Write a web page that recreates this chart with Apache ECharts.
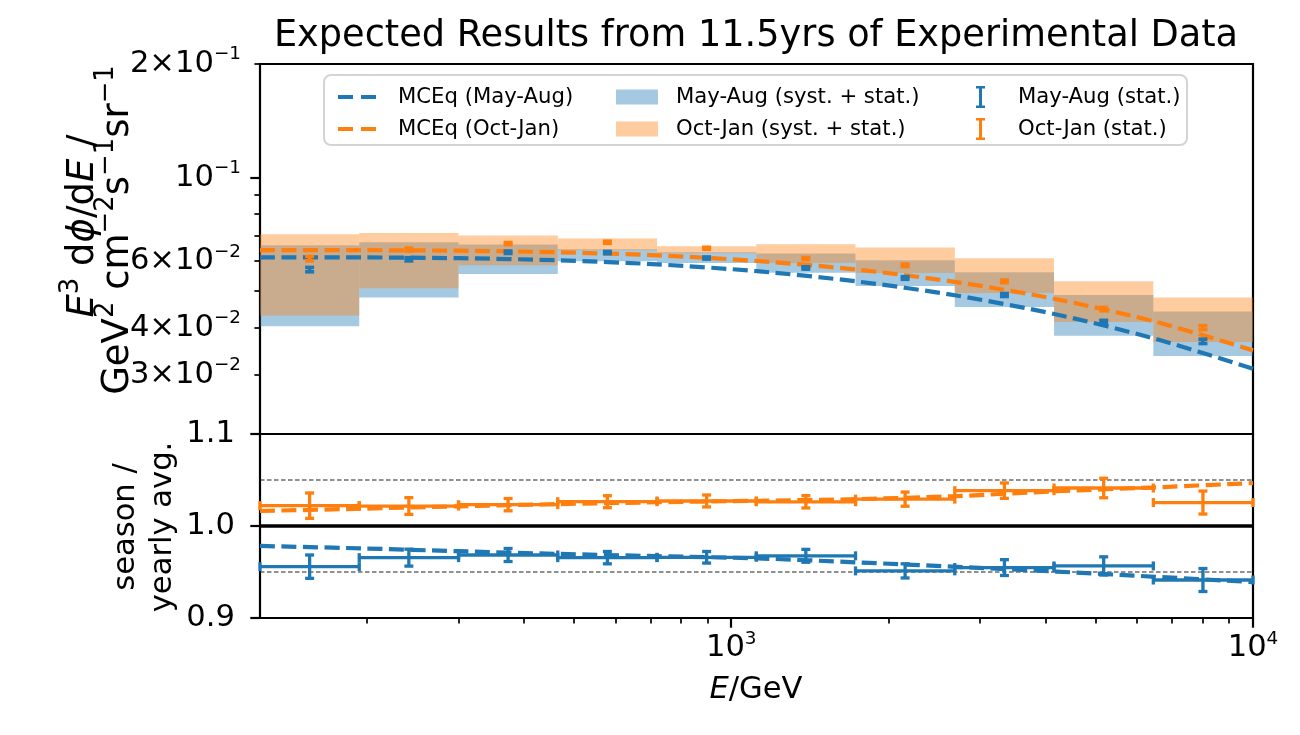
<!DOCTYPE html>
<html><head><meta charset="utf-8">
<script src="https://cdn.jsdelivr.net/npm/echarts/dist/echarts.min.js"></script>
<style>html,body{margin:0;padding:0;background:#fff}#c{width:1300px;height:735px}</style>
</head><body><div id="c"></div>
<script>
// ---- data ----
const binEdges   = [125, 193.7, 300.2, 465.1, 720.8, 1116.9, 1730.8, 2682, 4156, 6441, 10000];
const binCenters = [155.6, 241.1, 373.6, 579.0, 897.2, 1390, 2154, 3339, 5174, 8018];

const bandMayLow   = [0.04032, 0.04805, 0.05549, 0.05998, 0.05935, 0.05597, 0.05157, 0.04536, 0.03810, 0.03363];
const bandMayHigh  = [0.06613, 0.06736, 0.06642, 0.06452, 0.06339, 0.06288, 0.06034, 0.05607, 0.04882, 0.04418];
const bandOctLow   = [0.04311, 0.05085, 0.05852, 0.06414, 0.06300, 0.05935, 0.05583, 0.04941, 0.04140, 0.03664];
const bandOctHigh  = [0.07073, 0.07128, 0.07016, 0.06888, 0.06573, 0.06654, 0.06521, 0.06108, 0.05306, 0.04805];

const fluxMay    = [0.05702, 0.06071, 0.06339, 0.06327, 0.06119, 0.05758, 0.05417, 0.04882, 0.04140, 0.03679];
const fluxMayErr = [0.00076, 0.00058, 0.00046, 0.00044, 0.00040, 0.00041, 0.00044, 0.00044, 0.00043, 0.00049];
const fluxOct    = [0.06097, 0.06442, 0.06682, 0.06736, 0.06494, 0.06097, 0.05852, 0.05306, 0.04480, 0.04000];
const fluxOctErr = [0.00082, 0.00058, 0.00044, 0.00042, 0.00041, 0.00040, 0.00044, 0.00043, 0.00046, 0.00049];

const mceqE      = [125, 195, 301, 466, 722, 1120, 1740, 2700, 4200, 6500, 10000];
const mceqMay    = [0.06145, 0.06141, 0.06112, 0.06034, 0.05886, 0.05646, 0.05304, 0.04867, 0.04335, 0.03736, 0.03113];
const mceqOct    = [0.06421, 0.06418, 0.06398, 0.06338, 0.06218, 0.06008, 0.05701, 0.05283, 0.04757, 0.04147, 0.03482];
const mceqMayRatio = [0.9783, 0.9757, 0.9726, 0.9697, 0.9672, 0.9648, 0.9605, 0.9556, 0.9505, 0.9448, 0.9390];
const mceqOctRatio = [1.0163, 1.0188, 1.0214, 1.0238, 1.0258, 1.0274, 1.0292, 1.0325, 1.0378, 1.0420, 1.0467];

const ratioMay    = [0.9558, 0.9656, 0.9685, 0.9656, 0.9660, 0.9676, 0.9512, 0.9548, 0.9566, 0.9413];
const ratioMayErr = [0.0127, 0.0092, 0.0071, 0.0067, 0.0063, 0.0070, 0.0077, 0.0086, 0.0099, 0.0125];
const ratioOct    = [1.0221, 1.0217, 1.0232, 1.0264, 1.0272, 1.0263, 1.0292, 1.0384, 1.0413, 1.0255];
const ratioOctErr = [0.0138, 0.0091, 0.0067, 0.0065, 0.0065, 0.0067, 0.0077, 0.0084, 0.0106, 0.0125];

const refLevels = [1.05, 1.0, 0.95];

const xTickVals  = [1000, 10000];
const xTickText  = ['{m|10}{s|3}', '{m|10}{s|4}'];
const xMinorVals = [200, 300, 400, 500, 600, 700, 800, 900, 2000, 3000, 4000, 5000, 6000, 7000, 8000, 9000];
const yTickVals  = [0.03, 0.04, 0.06, 0.1, 0.2];
const yTickText  = ['{m|3×10}{s|−2}', '{m|4×10}{s|−2}', '{m|6×10}{s|−2}', '{m|10}{s|−1}', '{m|2×10}{s|−1}'];
const yMinorVals = [0.03, 0.04, 0.05, 0.06, 0.07, 0.08, 0.09, 0.2];

// ---- styling ----
const FAM = "DejaVu Sans";
const BLUE = '#1f77b4', ORANGE = '#ff7f0e';
const BLUE_A = 'rgba(31,119,180,0.4)', ORANGE_A = 'rgba(255,127,14,0.4)';
const G0 = {left: 260, top: 64, width: 993, height: 370};
const G1 = {left: 260, top: 434, width: 993, height: 184};

function bandRows(lo, hi) { return lo.map((v, i) => [binEdges[i], binEdges[i + 1], v, hi[i]]); }
function errRows(v, e) { return v.map((y, i) => [binCenters[i], y, e[i]]); }
function stepRows(v, e) { return v.map((y, i) => [binEdges[i], binCenters[i], binEdges[i + 1], y, e[i]]); }
function pairs(xs, ys) { return xs.map((x, i) => [x, ys[i]]); }

function renderBand(params, api) {
  const p1 = api.coord([api.value(0), api.value(3)]);
  const p2 = api.coord([api.value(1), api.value(2)]);
  return {type: 'rect', shape: {x: p1[0], y: p1[1], width: p2[0] - p1[0], height: p2[1] - p1[1]},
          style: {fill: api.visual('color')}};
}
function renderErr(params, api) {
  const x = api.value(0), y = api.value(1), e = api.value(2);
  const a = api.coord([x, y + e]), b = api.coord([x, y - e]);
  const c = 4.5, st = {stroke: api.visual('color'), lineWidth: 3.6};
  return {type: 'group', children: [
    {type: 'line', shape: {x1: a[0], y1: a[1], x2: b[0], y2: b[1]}, style: st},
    {type: 'line', shape: {x1: a[0] - c, y1: a[1], x2: a[0] + c, y2: a[1]}, style: st},
    {type: 'line', shape: {x1: b[0] - c, y1: b[1], x2: b[0] + c, y2: b[1]}, style: st}
  ]};
}
function renderStep(params, api) {
  const lo = api.value(0), cx = api.value(1), hi = api.value(2), y = api.value(3), e = api.value(4);
  const L = api.coord([lo, y]), R = api.coord([hi, y]);
  const T = api.coord([cx, y + e]), B = api.coord([cx, y - e]);
  const c = 4.5, st = {stroke: api.visual('color'), lineWidth: 3.3};
  return {type: 'group', children: [
    {type: 'line', shape: {x1: L[0], y1: L[1], x2: R[0], y2: R[1]}, style: st},
    {type: 'line', shape: {x1: L[0], y1: L[1] - c, x2: L[0], y2: L[1] + c}, style: st},
    {type: 'line', shape: {x1: R[0], y1: R[1] - c, x2: R[0], y2: R[1] + c}, style: st},
    {type: 'line', shape: {x1: T[0], y1: T[1], x2: B[0], y2: B[1]}, style: st},
    {type: 'line', shape: {x1: T[0] - c, y1: T[1], x2: T[0] + c, y2: T[1]}, style: st},
    {type: 'line', shape: {x1: B[0] - c, y1: B[1], x2: B[0] + c, y2: B[1]}, style: st}
  ]};
}
function lookup(vals, texts) {
  return v => { for (let i = 0; i < vals.length; i++) if (Math.abs(v - vals[i]) / vals[i] < 1e-6) return texts[i]; return ''; };
}
function richSet(size, supRatio) {
  return {
    m: {fontSize: size, fontFamily: FAM, color: '#000', fill: '#000', verticalAlign: 'middle'},
    i: {fontSize: size, fontFamily: FAM, fontStyle: 'italic', color: '#000', fill: '#000', verticalAlign: 'middle'},
    s: {fontSize: size * supRatio, fontFamily: FAM, color: '#000', fill: '#000', verticalAlign: 'middle',
        padding: [0, 0, size * 0.62, 0]}
  };
}
const dashLine = (color) => ({color: color, width: 4.2, type: [15, 6.5], cap: 'butt'});
const tickLbl = {color: '#000', fontSize: 30.6, fontFamily: FAM, rich: richSet(30.6, 0.6)};
const gridStyle = {show: true, borderColor: '#000', borderWidth: 2.2, backgroundColor: 'transparent', containLabel: false};

const DASH_ICON = 'path://M0,0H15V4H0Z M23,0H38V4H23Z';
const ERR_ICON  = 'path://M0,0H9V2.5H0Z M3,0H6V22H3Z M0,19.5H9V22H0Z';
const legendText = (pad) => ({color: '#000', fontSize: 21.2, fontFamily: FAM, lineHeight: 24, padding: [0, 0, 0, pad]});

function gText(x, y, rot, text, size) {
  return {type: 'text', x: x, y: y, rotation: rot, z: 10,
          style: {text: text, rich: richSet(size, 0.7), font: size + "px 'DejaVu Sans', sans-serif", fill: '#000',
                  textAlign: 'center', textVerticalAlign: 'middle'}};
}

const option = {
  animation: false,
  backgroundColor: '#fff',
  grid: [Object.assign({}, G0, gridStyle), Object.assign({}, G1, gridStyle)],
  xAxis: [
    {gridIndex: 0, type: 'log', logBase: 10, min: 125, max: 10000, position: 'bottom',
     axisLine: {show: false}, axisTick: {show: false}, axisLabel: {show: false}, splitLine: {show: false}},
    {gridIndex: 1, type: 'log', logBase: 10, min: 125, max: 10000, position: 'bottom',
     axisLine: {show: false}, splitLine: {show: false},
     axisTick: {show: true, inside: false, length: 9.7, lineStyle: {color: '#000', width: 2.2}, customValues: xTickVals},
     axisLabel: {show: true, margin: 12, customValues: xTickVals, formatter: lookup(xTickVals, xTickText), ...tickLbl}},
    {gridIndex: 1, type: 'log', logBase: 10, min: 125, max: 10000, position: 'bottom', offset: 0,
     axisLine: {show: false}, splitLine: {show: false}, axisLabel: {show: false},
     axisTick: {show: true, inside: false, length: 5.6, lineStyle: {color: '#000', width: 1.7}, customValues: xMinorVals}}
  ],
  yAxis: [
    {gridIndex: 0, type: 'log', logBase: 10, min: 0.0209, max: 0.2, position: 'left',
     axisLine: {show: false}, splitLine: {show: false},
     axisTick: {show: true, inside: false, length: 9.7, lineStyle: {color: '#000', width: 2.2}, customValues: [0.1]},
     axisLabel: {show: true, margin: 19, customValues: yTickVals, formatter: lookup(yTickVals, yTickText), ...tickLbl}},
    {gridIndex: 1, type: 'value', min: 0.9, max: 1.1, interval: 0.1, position: 'left',
     axisLine: {show: false}, splitLine: {show: false},
     axisTick: {show: true, inside: false, length: 9.7, lineStyle: {color: '#000', width: 2.2}},
     axisLabel: {show: true, margin: 25, formatter: v => '{m|' + v.toFixed(1) + '}', ...tickLbl}},
    {gridIndex: 0, type: 'log', logBase: 10, min: 0.0209, max: 0.2, position: 'left', offset: 0,
     axisLine: {show: false}, splitLine: {show: false}, axisLabel: {show: false},
     axisTick: {show: true, inside: false, length: 5.6, lineStyle: {color: '#000', width: 1.7}, customValues: yMinorVals}}
  ],
  legend: [
    {orient: 'vertical', left: 333, top: 80, itemGap: 8, itemWidth: 38, itemHeight: 4, symbolKeepAspect: true,
     itemStyle: {borderWidth: 0}, textStyle: legendText(17), selectedMode: false,
     data: [{name: 'MCEq (May-Aug)', icon: DASH_ICON}, {name: 'MCEq (Oct-Jan)', icon: DASH_ICON}]},
    {orient: 'vertical', left: 611, top: 80, itemGap: 8, itemWidth: 42, itemHeight: 15,
     itemStyle: {borderWidth: 0}, textStyle: legendText(13), selectedMode: false,
     data: [{name: 'May-Aug (syst. + stat.)', icon: 'rect'}, {name: 'Oct-Jan (syst. + stat.)', icon: 'rect'}]},
    {orient: 'vertical', left: 971, top: 80, itemGap: 8, itemWidth: 9, itemHeight: 22, symbolKeepAspect: true,
     itemStyle: {borderWidth: 0}, textStyle: legendText(28), selectedMode: false,
     data: [{name: 'May-Aug (stat.)', icon: ERR_ICON}, {name: 'Oct-Jan (stat.)', icon: ERR_ICON}]}
  ],
  graphic: [
    {type: 'rect', z: 0, shape: {x: 324, y: 75, width: 863, height: 70, r: 7},
     style: {fill: 'rgba(255,255,255,0.8)', stroke: '#d4d4d4', lineWidth: 2}},
    {type: 'text', x: 756, y: 36, style: {text: 'Expected Results from 11.5yrs of Experimental Data',
     font: "36.7px 'DejaVu Sans', sans-serif", fill: '#000', textAlign: 'center', textVerticalAlign: 'middle'}},
    gText(756, 690, 0, '{i|E}{m|/GeV}', 30.6),
    gText(83, 226, Math.PI / 2, '{i|E}{s|3}{m| d}{i|ϕ}{m|/d}{i|E}{m| /}', 37),
    gText(118, 230, Math.PI / 2, '{m|GeV}{s|2}{m| cm}{s|−2}{m|s}{s|−1}{m|sr}{s|−1}', 37),
    gText(126, 527, Math.PI / 2, '{m|season /}', 30.6),
    gText(163, 527, Math.PI / 2, '{m|yearly avg.}', 30.6)
  ],
  series: [
    {name: 'May-Aug (syst. + stat.)', type: 'custom', xAxisIndex: 0, yAxisIndex: 0, z: 1,
     itemStyle: {color: BLUE_A}, renderItem: renderBand, data: bandRows(bandMayLow, bandMayHigh)},
    {name: 'Oct-Jan (syst. + stat.)', type: 'custom', xAxisIndex: 0, yAxisIndex: 0, z: 2,
     itemStyle: {color: ORANGE_A}, renderItem: renderBand, data: bandRows(bandOctLow, bandOctHigh)},
    {name: 'MCEq (May-Aug)', type: 'line', xAxisIndex: 0, yAxisIndex: 0, z: 3, showSymbol: false, symbol: 'none',
     smooth: 0.3, itemStyle: {color: BLUE}, lineStyle: dashLine(BLUE), data: pairs(mceqE, mceqMay)},
    {name: 'MCEq (Oct-Jan)', type: 'line', xAxisIndex: 0, yAxisIndex: 0, z: 3, showSymbol: false, symbol: 'none',
     smooth: 0.3, itemStyle: {color: ORANGE}, lineStyle: dashLine(ORANGE), data: pairs(mceqE, mceqOct)},
    {name: 'May-Aug (stat.)', type: 'custom', xAxisIndex: 0, yAxisIndex: 0, z: 4,
     itemStyle: {color: BLUE}, renderItem: renderErr, data: errRows(fluxMay, fluxMayErr)},
    {name: 'Oct-Jan (stat.)', type: 'custom', xAxisIndex: 0, yAxisIndex: 0, z: 4,
     itemStyle: {color: ORANGE}, renderItem: renderErr, data: errRows(fluxOct, fluxOctErr)},
    // ratio panel
    {name: 'ref105', type: 'line', xAxisIndex: 1, yAxisIndex: 1, z: 2, symbol: 'none', silent: true,
     lineStyle: {color: '#222', width: 1.2, type: [4.5, 2.5]}, data: [[125, refLevels[0]], [10000, refLevels[0]]]},
    {name: 'ref100', type: 'line', xAxisIndex: 1, yAxisIndex: 1, z: 2, symbol: 'none', silent: true,
     lineStyle: {color: '#000', width: 3.6}, data: [[125, refLevels[1]], [10000, refLevels[1]]]},
    {name: 'ref095', type: 'line', xAxisIndex: 1, yAxisIndex: 1, z: 2, symbol: 'none', silent: true,
     lineStyle: {color: '#222', width: 1.2, type: [4.5, 2.5]}, data: [[125, refLevels[2]], [10000, refLevels[2]]]},
    {name: 'MCEq (May-Aug)', type: 'line', xAxisIndex: 1, yAxisIndex: 1, z: 3, showSymbol: false, symbol: 'none',
     smooth: 0.3, itemStyle: {color: BLUE}, lineStyle: dashLine(BLUE), data: pairs(mceqE, mceqMayRatio)},
    {name: 'MCEq (Oct-Jan)', type: 'line', xAxisIndex: 1, yAxisIndex: 1, z: 3, showSymbol: false, symbol: 'none',
     smooth: 0.3, itemStyle: {color: ORANGE}, lineStyle: dashLine(ORANGE), data: pairs(mceqE, mceqOctRatio)},
    {name: 'May-Aug (stat.)', type: 'custom', xAxisIndex: 1, yAxisIndex: 1, z: 4,
     itemStyle: {color: BLUE}, renderItem: renderStep, data: stepRows(ratioMay, ratioMayErr)},
    {name: 'Oct-Jan (stat.)', type: 'custom', xAxisIndex: 1, yAxisIndex: 1, z: 4,
     itemStyle: {color: ORANGE}, renderItem: renderStep, data: stepRows(ratioOct, ratioOctErr)}
  ]
};
const chart = echarts.init(document.getElementById('c'), null, {renderer: 'canvas', width: 1300, height: 735});
chart.setOption(option);
</script></body></html>
